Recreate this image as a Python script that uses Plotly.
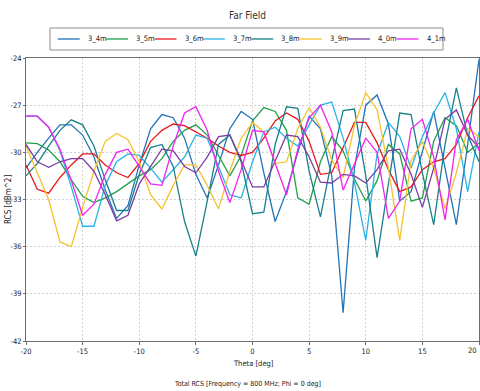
import plotly.graph_objects as go

theta = list(range(-20, 21))
names = ["3_4m", "3_5m", "3_6m", "3_7m", "3_8m", "3_9m", "4_0m", "4_1m"]
colors = ["#2472b6", "#21a04c", "#e6191c", "#2ab4e6", "#17808a", "#f7c12e", "#7a3ea2", "#f222f0"]

rcs_3_4m = [-31.0, -30.0, -29.1, -28.25, -28.25, -28.9, -30.3, -32.4, -34.2, -33.4, -30.8,
            -28.5, -27.6, -27.8, -29.1, -31.4, -32.9, -30.8, -28.5, -27.4, -27.9,
            -31.3, -34.4, -32.5, -30.0, -27.7, -28.5, -31.5, -40.2, -31.0, -27.0,
            -26.35, -28.2, -33.1, -32.5, -30.0, -27.4, -31.0, -34.6, -29.5, -24.1]
rcs_3_5m = [-29.4, -29.45, -29.85, -30.6, -31.75, -32.8, -33.2, -32.9, -32.5, -32.0, -31.5,
            -31.1, -30.4, -29.3, -28.6, -28.25, -28.9, -30.2, -31.5, -30.2, -28.0,
            -27.15, -27.4, -28.6, -32.9, -33.3, -30.6, -29.0, -29.9, -31.7, -33.1,
            -31.8, -29.5, -30.1, -33.1, -32.9, -29.3, -27.8, -28.3, -30.0, -29.4]
rcs_3_6m = [-30.8, -32.35, -32.6, -31.6, -30.8, -30.1, -30.1, -30.8, -31.3, -31.6, -30.7,
            -29.3, -28.6, -28.2, -28.3, -28.7, -29.1, -29.6, -30.0, -30.2, -30.0,
            -29.1, -28.0, -27.5, -27.9, -29.3, -31.4, -31.3, -29.7, -28.1, -28.1,
            -29.4, -31.1, -32.5, -32.2, -31.1, -30.6, -30.4, -29.5, -27.8, -26.4]
rcs_3_7m = [-27.7, -27.7, -28.4, -29.9, -32.2, -34.7, -34.7, -32.1, -30.6, -30.1, -30.2,
            -31.0, -31.9, -31.1, -30.3, -28.9, -29.1, -30.9, -32.7, -32.9, -30.6,
            -28.7, -28.4, -29.1, -29.6, -28.25, -27.0, -26.8, -29.1, -31.9, -35.6,
            -30.1, -28.1, -29.0, -31.0, -29.0, -27.5, -26.2, -28.5, -32.5, -28.7]
rcs_3_8m = [-31.5, -30.7, -29.6, -28.6, -27.93, -28.25, -29.6, -31.75, -33.7, -33.7, -31.4,
            -29.7, -29.5, -30.9, -34.4, -36.6, -33.1, -29.5, -28.9, -30.6, -33.9,
            -33.8, -29.5, -27.1, -27.2, -31.2, -34.1, -30.5, -27.35, -27.25, -31.5,
            -36.7, -32.0, -27.5, -27.6, -31.3, -34.6, -29.5, -25.9, -28.9, -30.6]
rcs_3_9m = [-29.6, -31.3, -33.0, -35.7, -36.0, -33.5, -31.2, -29.3, -28.8, -29.2, -30.6,
            -32.7, -33.6, -32.1, -30.8, -30.8, -32.1, -33.6, -31.2, -29.1, -28.1,
            -28.7, -30.7, -30.6, -28.5, -27.15, -28.4, -30.5, -31.6, -28.3, -26.2,
            -27.3, -31.0, -35.6, -30.55, -29.3, -31.0, -33.6, -31.3, -28.5, -29.0]
rcs_4_0m = [-29.5, -30.6, -30.95, -30.6, -30.4, -30.4, -31.2, -32.7, -34.36, -34.0, -32.0,
            -30.9, -29.8, -29.9, -30.9, -31.3, -30.3, -29.0, -28.9, -30.5, -32.2,
            -32.2, -30.6, -28.9, -29.0, -30.3, -31.9, -31.95, -31.4, -31.5, -31.95,
            -31.1, -29.9, -29.8, -31.4, -33.5, -31.0, -27.9, -27.3, -28.9, -29.7]
rcs_4_1m = [-27.7, -27.7, -28.4, -29.8, -31.8, -34.0, -33.3, -31.4, -30.0, -29.8, -30.9,
            -32.0, -32.1, -29.6, -27.5, -27.1, -28.6, -31.2, -33.2, -31.1, -28.6,
            -28.7, -30.7, -32.7, -29.8, -27.8, -27.0, -28.7, -32.4, -30.8, -29.1,
            -30.0, -34.2, -33.1, -28.5, -27.9, -30.3, -34.3, -29.2, -27.9, -29.9]

series = [rcs_3_4m, rcs_3_5m, rcs_3_6m, rcs_3_7m, rcs_3_8m, rcs_3_9m, rcs_4_0m, rcs_4_1m]

x_ticks = [-20, -15, -10, -5, 0, 5, 10, 15, 20]
y_ticks = [-42, -39, -36, -33, -30, -27, -24]

FONT = "Liberation Sans Narrow, Arial Narrow, DejaVu Sans Condensed, Liberation Sans, sans-serif"

W, H = 480, 391
L, R, T, B = 26, 479, 58, 341

fig = go.Figure()
for name, col, ys in zip(names, colors, series):
    fig.add_trace(go.Scatter(x=theta, y=ys, mode="lines", name=name,
                             line=dict(color=col, width=1.3), showlegend=False))

def px2x(px):
    return (px - L) / (R - L)

def py2y(py):
    return (B - py) / (B - T)

shapes = []
annotations = []
# legend box
shapes.append(dict(type="rect", xref="paper", yref="paper",
                   x0=px2x(50), x1=px2x(443), y0=py2y(50), y1=py2y(28),
                   line=dict(color="#8c8c8c", width=1), fillcolor="white", layer="above"))
for i, (name, col) in enumerate(zip(names, colors)):
    x0 = 57.7 + i * 48.4
    shapes.append(dict(type="line", xref="paper", yref="paper",
                       x0=px2x(x0), x1=px2x(x0 + 22), y0=py2y(39), y1=py2y(39),
                       line=dict(color=col, width=1.3), layer="above"))
    annotations.append(dict(text=name, xref="paper", yref="paper",
                            x=px2x(x0 + 28), y=py2y(39), xanchor="left", yanchor="middle",
                            showarrow=False, font=dict(family=FONT, size=7.5, color="#222")))

annotations.append(dict(text="Far Field", xref="paper", yref="paper",
                        x=px2x(247), y=py2y(15), xanchor="center", yanchor="middle",
                        showarrow=False, font=dict(family=FONT, size=10, color="#333")))
annotations.append(dict(text="Theta [deg]", xref="paper", yref="paper",
                        x=px2x(253), y=py2y(363), xanchor="center", yanchor="middle",
                        showarrow=False, font=dict(family=FONT, size=7.5, color="#222")))
annotations.append(dict(text="Total RCS [Frequency = 800 MHz; Phi = 0 deg]", xref="paper", yref="paper",
                        x=px2x(247.5), y=py2y(384), xanchor="center", yanchor="middle",
                        showarrow=False, font=dict(family=FONT, size=7, color="#222")))
annotations.append(dict(text="RCS [dBm^2]", xref="paper", yref="paper",
                        x=px2x(8), y=py2y(200), xanchor="center", yanchor="middle",
                        textangle=-90, showarrow=False, font=dict(family=FONT, size=8, color="#222")))
# last x tick label, kept inside the page at the right edge
annotations.append(dict(text=str(x_ticks[-1]), xref="x", yref="paper",
                        x=x_ticks[-1], y=py2y(350), xanchor="right", yanchor="middle",
                        showarrow=False, font=dict(family=FONT, size=7.5, color="#222")))

fig.update_layout(
    width=W, height=H,
    margin=dict(l=L, r=W - R, t=T, b=H - B, pad=0),
    paper_bgcolor="white", plot_bgcolor="white",
    showlegend=False,
    shapes=shapes, annotations=annotations,
    font=dict(family=FONT, size=8, color="#222"),
    xaxis=dict(range=[-20, 20], tickvals=x_ticks, ticktext=[str(v) for v in x_ticks],
               showgrid=True, gridcolor="#d0d0d0", griddash="2px,2px", gridwidth=1,
               zeroline=False, showline=True, linecolor="#6e6e6e", linewidth=1, mirror=True,
               ticks="outside", ticklen=3, tickcolor="#6e6e6e",
               tickfont=dict(family=FONT, size=7.5, color="#222"), automargin=False),
    yaxis=dict(range=[-42, -24], tickvals=y_ticks, ticktext=[str(v) for v in y_ticks],
               showgrid=True, gridcolor="#d0d0d0", griddash="2px,2px", gridwidth=1,
               zeroline=False, showline=True, linecolor="#6e6e6e", linewidth=1, mirror=True,
               ticks="outside", ticklen=2, tickcolor="#6e6e6e",
               tickfont=dict(family=FONT, size=7.5, color="#222"), automargin=False),
)

fig.write_html("out.html")
